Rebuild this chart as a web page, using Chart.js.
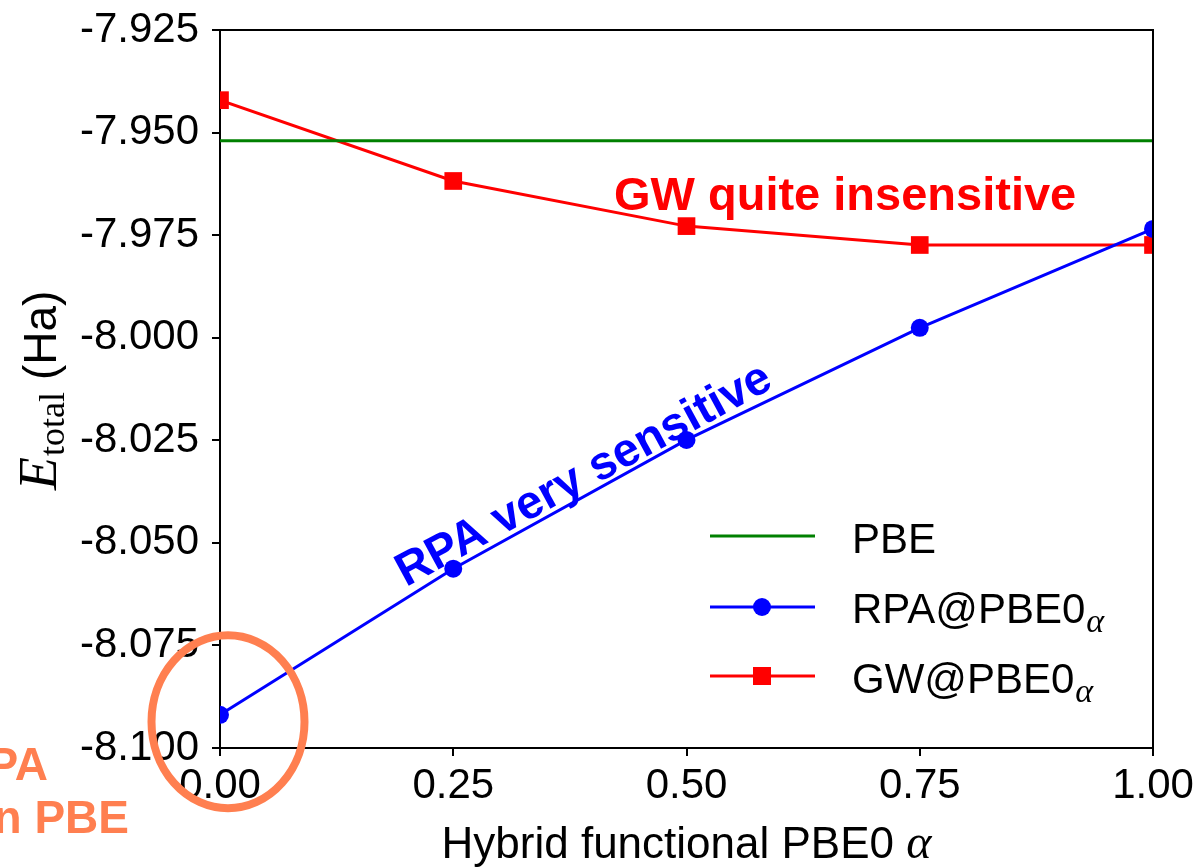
<!DOCTYPE html>
<html>
<head>
<meta charset="utf-8">
<script src="https://cdn.jsdelivr.net/npm/chart.js@4"></script>
<style>
  html, body { margin: 0; padding: 0; background: #fff; }
  #wrap { width: 1193px; height: 867px; }
</style>
</head>
<body>
<div id="wrap"><canvas id="energyChart" width="1193" height="867"></canvas></div>
<script>
// hybrid mixing parameter and total energies (Ha)
const alphas = [0, 0.25, 0.5, 0.75, 1.0];
const pbeEnergy = [-7.952, -7.952];
const pbeAlphas = [0, 1.0];
const rpaEnergy = [-8.0919, -8.0563, -8.0249, -7.9976, -7.9735];
const gwEnergy = [-7.9421, -7.9618, -7.9728, -7.9774, -7.9774];
const xTickStep = 0.25;
const yRange = [-8.100, -7.925];
const yTickStep = 0.025;

const SANS = '"Liberation Sans", Arial, sans-serif';
const SERIF = '"Liberation Serif", "Times New Roman", serif';
const GREEN = '#008000', BLUE = '#0000ff', RED = '#ff0000', CORAL = '#ff7f50';

const toPoints = (xs, ys) => xs.map((v, i) => ({ x: v, y: ys[i] }));

// text followed by a small italic alpha subscript
function textWithAlpha(ctx, str, x, y, subSize, drop) {
  ctx.font = '42px ' + SANS;
  ctx.textAlign = 'left';
  ctx.fillText(str, x, y);
  const w = ctx.measureText(str).width;
  ctx.font = 'italic ' + subSize + 'px ' + SERIF;
  ctx.fillText('\u03b1', x + w + 1, y + drop);
}

const decorations = {
  id: 'decorations',
  afterDraw(chart) {
    const { ctx, chartArea: a, scales: { x, y } } = chart;
    ctx.save();

    // top and right spines
    ctx.strokeStyle = '#000';
    ctx.lineWidth = 2;
    ctx.beginPath();
    ctx.moveTo(a.left, a.top);
    ctx.lineTo(a.right, a.top);
    ctx.lineTo(a.right, a.bottom);
    ctx.stroke();

    // legend
    const rows = [
      { ds: chart.data.datasets[0], y: 536, base: 553 },
      { ds: chart.data.datasets[1], y: 607, base: 623 },
      { ds: chart.data.datasets[2], y: 676, base: 693 }
    ];
    rows.forEach(r => {
      ctx.strokeStyle = r.ds.borderColor;
      ctx.lineWidth = 3;
      ctx.beginPath();
      ctx.moveTo(710, r.y);
      ctx.lineTo(815, r.y);
      ctx.stroke();
      ctx.fillStyle = r.ds.borderColor;
      if (r.ds.pointStyle === 'circle') {
        ctx.beginPath();
        ctx.arc(762, r.y, 9, 0, Math.PI * 2);
        ctx.fill();
      } else if (r.ds.pointStyle === 'rect') {
        ctx.fillRect(753, r.y - 9, 18, 18);
      }
      ctx.fillStyle = '#000';
      ctx.textBaseline = 'alphabetic';
      if (r.ds.label === 'PBE') {
        ctx.font = '42px ' + SANS;
        ctx.textAlign = 'left';
        ctx.fillText('PBE', 852, r.base);
      } else {
        textWithAlpha(ctx, r.ds.label.replace('_alpha', ''), 852, r.base, 34, 9);
      }
    });

    // x axis title
    ctx.fillStyle = '#000';
    const xt = 'Hybrid functional PBE0 ';
    ctx.font = 'italic 48px ' + SERIF;
    const aw = ctx.measureText('\u03b1').width;
    ctx.font = '44px ' + SANS;
    const tw = ctx.measureText(xt).width;
    const cx = (a.left + a.right) / 2;
    ctx.textAlign = 'left';
    ctx.fillText(xt, cx - (tw + aw) / 2, 858);
    ctx.font = 'italic 48px ' + SERIF;
    ctx.fillText('\u03b1', cx - (tw + aw) / 2 + tw, 858);

    // y axis title: E_total (Ha), rotated
    ctx.save();
    ctx.translate(56, 490);
    ctx.rotate(-Math.PI / 2);
    ctx.textAlign = 'left';
    ctx.font = 'italic 54px ' + SERIF;
    ctx.fillText('E', 0, 0);
    let off = ctx.measureText('E').width + 1;
    ctx.font = '36px ' + SERIF;
    ctx.fillText('total', off, 8);
    off += ctx.measureText('total').width + 12;
    ctx.font = '46px ' + SANS;
    ctx.fillText('(Ha)', off, 0);
    ctx.restore();

    // annotations
    ctx.font = 'bold 47px ' + SANS;
    ctx.fillStyle = RED;
    ctx.textAlign = 'center';
    ctx.fillText('GW quite insensitive', x.getPixelForValue(0.67), y.getPixelForValue(-7.9689));

    ctx.save();
    ctx.translate(x.getPixelForValue(0.397), y.getPixelForValue(-8.0364));
    ctx.rotate(-28.5 * Math.PI / 180);
    ctx.font = 'bold 47px ' + SANS;
    ctx.fillStyle = BLUE;
    ctx.fillText('RPA very sensitive', 0, 0);
    ctx.restore();

    // highlight around the RPA@PBE point
    ctx.strokeStyle = CORAL;
    ctx.lineWidth = 8;
    ctx.beginPath();
    ctx.ellipse(x.getPixelForValue(alphas[0]) + 8, y.getPixelForValue(rpaEnergy[0]) + 7, 76.5, 86.5, 0, 0, Math.PI * 2);
    ctx.stroke();

    ctx.fillStyle = CORAL;
    ctx.font = 'bold 46px ' + SANS;
    ctx.textAlign = 'right';
    ctx.fillText('RPA', 48, 780);
    ctx.fillText('on PBE', 129, 833);

    ctx.restore();
  }
};

const ctx = document.getElementById('energyChart').getContext('2d');
new Chart(ctx, {
  type: 'line',
  data: {
    datasets: [{
      label: 'PBE',
      data: toPoints(pbeAlphas, pbeEnergy),
      borderColor: GREEN,
      borderWidth: 3,
      pointRadius: 0,
      clip: 0
    }, {
      label: 'RPA@PBE0_alpha',
      data: toPoints(alphas, rpaEnergy),
      borderColor: BLUE,
      backgroundColor: BLUE,
      borderWidth: 3,
      pointStyle: 'circle',
      pointRadius: 9,
      pointBorderWidth: 0,
      clip: 0
    }, {
      label: 'GW@PBE0_alpha',
      data: toPoints(alphas, gwEnergy),
      borderColor: RED,
      backgroundColor: RED,
      borderWidth: 3,
      pointStyle: 'rect',
      pointRadius: 12.5,
      pointBorderWidth: 0,
      clip: 0
    }]
  },
  options: {
    responsive: false,
    devicePixelRatio: 1,
    animation: false,
    layout: { padding: { top: 30, right: 40, left: 0, bottom: 0 } },
    plugins: { legend: { display: false }, tooltip: { enabled: false } },
    scales: {
      x: {
        type: 'linear',
        min: 0,
        max: 1,
        // fixed axis band; end labels may overhang the plot edges
        afterFit: s => { s.height = 119; s.paddingLeft = 0; s.paddingRight = 0; },
        ticks: {
          stepSize: xTickStep,
          color: '#000',
          padding: 5,
          maxRotation: 0,
          font: { family: SANS, size: 42 },
          callback: v => v.toFixed(2)
        },
        grid: { drawOnChartArea: false, tickLength: 8, color: '#000', lineWidth: 2 },
        border: { color: '#000', width: 2 }
      },
      y: {
        min: yRange[0],
        max: yRange[1],
        afterFit: s => { s.width = 220; s.paddingTop = 0; s.paddingBottom = 0; },
        ticks: {
          stepSize: yTickStep,
          color: '#000',
          padding: 13,
          font: { family: SANS, size: 42 },
          callback: v => v.toFixed(3)
        },
        grid: { drawOnChartArea: false, tickLength: 8, color: '#000', lineWidth: 2 },
        border: { color: '#000', width: 2 }
      }
    }
  },
  plugins: [decorations]
});
</script>
</body>
</html>
